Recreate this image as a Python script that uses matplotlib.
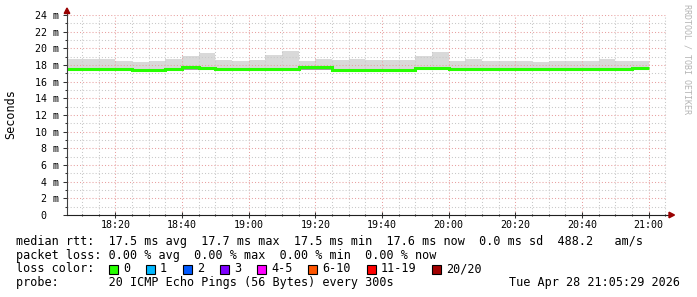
import matplotlib
matplotlib.use("Agg")
import matplotlib.pyplot as plt
from matplotlib.patches import Rectangle, Polygon
import numpy as np

# ---------------- data ----------------
# 5-minute bins, minutes after 18:00 (bin start)
bin_start_min = np.arange(5, 180, 5)
bin_step_min = 5
view_start_min = 5 + 29 / 60.0      # 18:05:29
view_end_min = 185 + 29 / 60.0      # 21:05:29

median_ms = [17.48, 17.48, 17.56, 17.56, 17.43, 17.43, 17.56, 17.72, 17.66,
             17.46, 17.46, 17.46, 17.46, 17.46, 17.70, 17.70, 17.43, 17.43,
             17.43, 17.43, 17.43, 17.68, 17.68, 17.46, 17.46, 17.46, 17.46,
             17.46, 17.46, 17.46, 17.46, 17.46, 17.46, 17.46, 17.66]
smoke_top_ms = [18.76, 18.68, 18.68, 18.53, 18.36, 18.53, 18.68, 19.08, 19.48,
                18.60, 18.48, 18.60, 19.20, 19.72, 18.48, 18.68, 18.60, 18.68,
                18.60, 18.60, 18.60, 19.08, 19.56, 18.53, 18.68, 18.53, 18.53,
                18.44, 18.40, 18.44, 18.53, 18.53, 18.68, 18.53, 18.53]
smoke_bottom_ms = [17.38, 17.38, 17.40, 17.40, 17.36, 17.36, 17.40, 17.40, 17.40,
                   17.38, 17.38, 17.38, 17.38, 17.38, 17.40, 17.40, 17.36, 17.36,
                   17.36, 17.36, 17.36, 17.40, 17.40, 17.38, 17.38, 17.38, 17.38,
                   17.38, 17.38, 17.38, 17.38, 17.38, 17.38, 17.38, 17.40]

x_tick_min = [20, 40, 60, 80, 100, 120, 140, 160, 180]
x_tick_labels = ["18:20", "18:40", "19:00", "19:20", "19:40", "20:00",
                 "20:20", "20:40", "21:00"]
y_tick_ms = [0, 2, 4, 6, 8, 10, 12, 14, 16, 18, 20, 22, 24]
y_tick_labels = ["0  ", "2 m", "4 m", "6 m", "8 m", "10 m", "12 m", "14 m",
                 "16 m", "18 m", "20 m", "22 m", "24 m"]

legend_rtt = "median rtt:  17.5 ms avg  17.7 ms max  17.5 ms min  17.6 ms now  0.0 ms sd  488.2   am/s"
legend_loss = "packet loss: 0.00 % avg  0.00 % max  0.00 % min  0.00 % now"
loss_title = "loss color:"
loss_labels = ["0", "1", "2", "3", "4-5", "6-10", "11-19", "20/20"]
loss_colors = ["#26ff00", "#00b8ff", "#0059ff", "#7e00ff", "#ff00ff",
               "#ff5500", "#ff0000", "#a10000"]
probe_text = "probe:       20 ICMP Echo Pings (56 Bytes) every 300s"
stamp_text = "Tue Apr 28 21:05:29 2026"
ylabel = "Seconds"
watermark = "RRDTOOL / TOBI OETIKER"

# ---------------- figure ----------------
W, H = 697, 297
MONO = "DejaVu Sans Mono"
plt.rcParams["font.family"] = [MONO]

fig = plt.figure(figsize=(W / 100, H / 100), dpi=100, facecolor="white")
ax = fig.add_axes([67 / W, (H - 215) / H, 600 / W, 200 / H])
ax.set_facecolor("white")

def fx(x):
    return x / W

def fy(y):
    return 1 - y / H

edges = np.append(bin_start_min, bin_start_min[-1] + bin_step_min)

# smoke above median
ax.stairs(smoke_top_ms, edges, baseline=median_ms, fill=True,
          color="#d9d9d9", lw=0, zorder=1)
# smoke below median
ax.stairs(median_ms, edges, baseline=smoke_bottom_ms, fill=True,
          color="#a0a0a0", lw=0, zorder=1)
# median line
ax.stairs(median_ms, edges, baseline=None, color="#26ff00", lw=2.2, zorder=3)

ax.set_xlim(view_start_min, view_end_min)
ax.set_ylim(0, 24)

ax.set_xticks(x_tick_min)
ax.set_xticklabels(x_tick_labels)
ax.set_xticks(np.arange(10, 186, 5), minor=True)
ax.set_yticks(y_tick_ms)
ax.set_yticklabels(y_tick_labels)
ax.set_yticks(np.arange(1, 24, 1), minor=True)

ax.set_axisbelow(False)
ax.grid(which="major", color="#e8a0a0", ls=(0, (1, 2)), lw=0.75)
ax.grid(which="minor", color="#c8c8c8", ls=(0, (1, 2)), lw=0.75)

ax.tick_params(axis="both", which="both", labelsize=7.2, colors="#333333",
               labelcolor="black")
ax.tick_params(axis="y", which="major", direction="out", length=3, width=0.75, pad=3)
ax.tick_params(axis="y", which="minor", direction="out", length=1.5, width=0.75)
ax.tick_params(axis="x", which="major", direction="inout", length=4, width=0.75, pad=1.5)
ax.tick_params(axis="x", which="minor", direction="inout", length=2, width=0.75)

for s in ax.spines.values():
    s.set_visible(False)

# axis lines with arrows
ax.plot([0, 0], [0, 1.015], transform=ax.transAxes, clip_on=False,
        color="#404040", lw=0.8, zorder=4)
ax.plot([0, 1.005], [0, 0], transform=ax.transAxes, clip_on=False,
        color="#202020", lw=0.8, zorder=4)
fig.patches.append(Polygon([(fx(67), fy(8)), (fx(64.2), fy(13.5)), (fx(69.8), fy(13.5))],
                           closed=True, transform=fig.transFigure,
                           color="#990000", zorder=5))
fig.patches.append(Polygon([(fx(674.5), fy(215)), (fx(669), fy(212.2)), (fx(669), fy(217.8))],
                           closed=True, transform=fig.transFigure,
                           color="#990000", zorder=5))

# y label and watermark
fig.text(fx(11), fy(114), ylabel, rotation=90, fontsize=8.5, ha="center",
         va="center", family=MONO)
fig.text(fx(687), fy(59), watermark, rotation=270, fontsize=6, ha="center",
         va="center", color="#b4b4b4", family=MONO)

# legend
FS = 8.5
CH = 7.12  # character width in px
x0 = 16
fig.text(fx(x0), fy(241.5), legend_rtt, fontsize=FS, ha="left", va="center", family=MONO)
fig.text(fx(x0), fy(255.2), legend_loss, fontsize=FS, ha="left", va="center", family=MONO)
fig.text(fx(x0), fy(269), loss_title, fontsize=FS, ha="left", va="center", family=MONO)
pos = 13.06
for lab, col in zip(loss_labels, loss_colors):
    sx = x0 + pos * CH
    fig.patches.append(Rectangle((fx(sx), fy(273.5)), 9 / W, 9 / H,
                                 transform=fig.transFigure, facecolor=col,
                                 edgecolor="black", lw=0.8))
    fig.text(fx(sx + 14), fy(269), lab, fontsize=FS, ha="left", va="center", family=MONO)
    pos += len(lab) + 4.2
fig.text(fx(x0), fy(282.8), probe_text, fontsize=FS, ha="left", va="center", family=MONO)
fig.text(fx(680), fy(282.8), stamp_text, fontsize=FS, ha="right", va="center", family=MONO)

fig.savefig("out.png", dpi=100, facecolor="white")
